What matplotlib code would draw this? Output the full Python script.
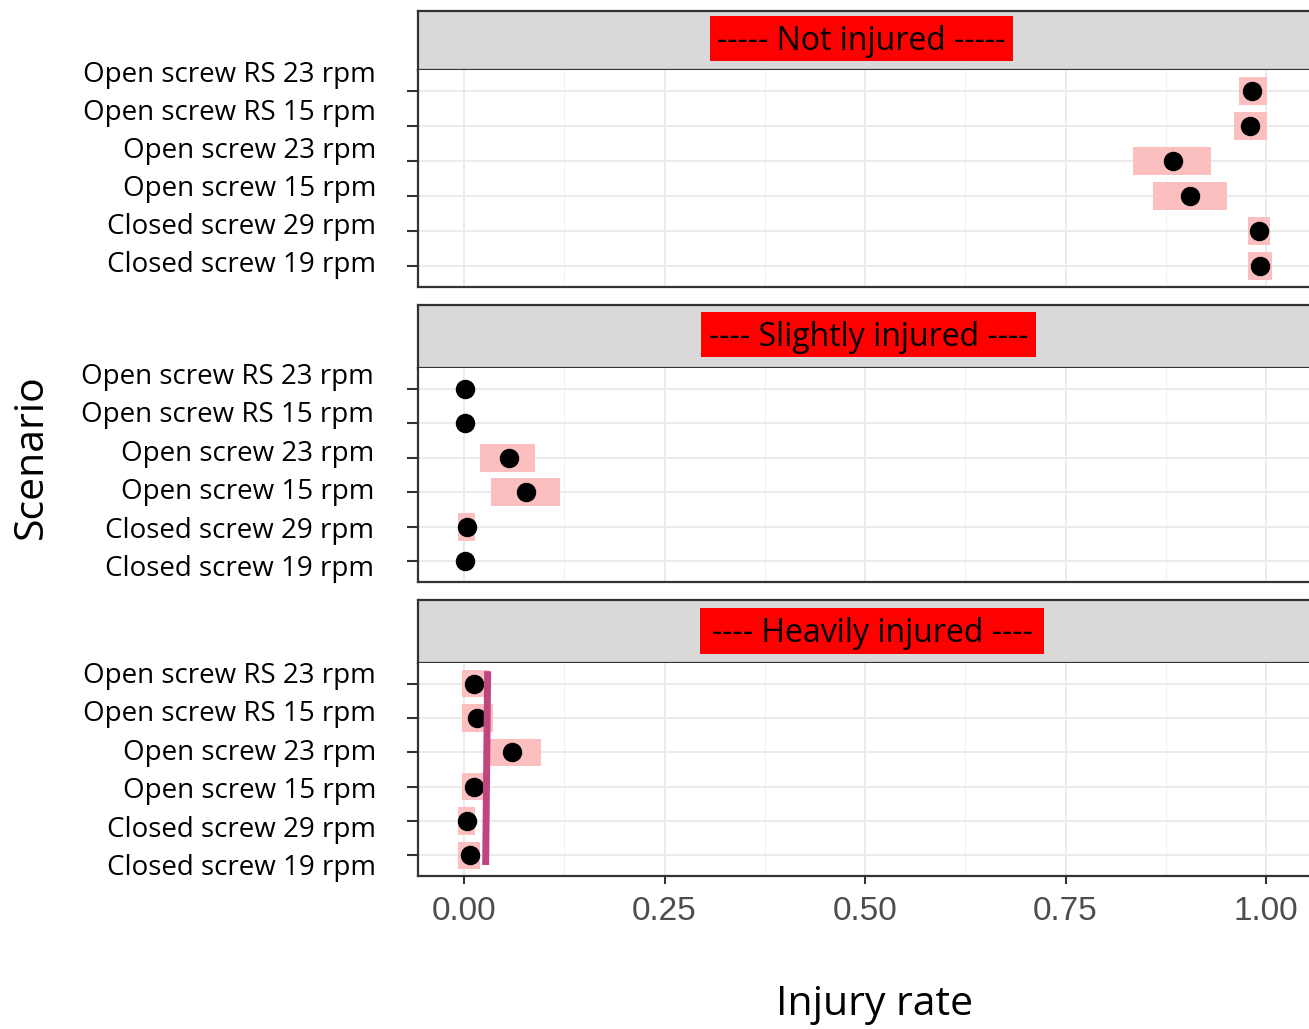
import matplotlib
matplotlib.use("Agg")
import matplotlib.pyplot as plt
import numpy as np
from matplotlib.patches import Rectangle

# scenarios, top row first
scenarios = [
    "Open screw RS 23 rpm",
    "Open screw RS 15 rpm",
    "Open screw 23 rpm",
    "Open screw 15 rpm",
    "Closed screw 29 rpm",
    "Closed screw 19 rpm",
]
panel_titles = [
    "----- Not injured -----",
    "---- Slightly injured ----",
    "---- Heavily injured ----",
]

# injury rate estimate and interval, same order as scenarios
not_rate = [0.982, 0.980, 0.884, 0.905, 0.991, 0.992]
not_lo = [0.966, 0.960, 0.834, 0.859, 0.977, 0.978]
not_hi = [1.001, 1.001, 0.931, 0.951, 1.005, 1.008]

slight_rate = [0.001, 0.001, 0.056, 0.077, 0.004, 0.001]
slight_lo = [0.001, 0.001, 0.020, 0.034, -0.008, 0.001]
slight_hi = [0.001, 0.001, 0.089, 0.120, 0.014, 0.001]

heavy_rate = [0.013, 0.016, 0.060, 0.013, 0.004, 0.007]
heavy_lo = [-0.003, -0.003, 0.031, -0.003, -0.008, -0.008]
heavy_hi = [0.031, 0.036, 0.096, 0.031, 0.014, 0.020]

# threshold line drawn on the heavily injured panel
threshold_x = [0.0295, 0.027]
threshold_y = [5.36, -0.28]

x_ticks = [0.00, 0.25, 0.50, 0.75, 1.00]
x_minor = [0.125, 0.375, 0.625, 0.875]

W, H, DPI = 1309, 1029, 100
fig = plt.figure(figsize=(W / DPI, H / DPI), dpi=DPI)


def box(l, t, r, b):
    return [l / W, 1 - b / H, (r - l) / W, (b - t) / H]


# pixel layout: strip top, strip bottom, panel bottom, label baseline top/bottom, label right, red box
layout = [
    (11, 70, 287, 82, 272, 376, (710, 16, 1013, 61)),
    (305, 368, 582, 384, 576, 374, (701, 312, 1036, 357)),
    (600, 663, 876, 683, 875, 376, (700, 608, 1044, 654)),
]
panels = [
    (not_rate, not_lo, not_hi),
    (slight_rate, slight_lo, slight_hi),
    (heavy_rate, heavy_lo, heavy_hi),
]

SPINE = "#333333"
XMIN, XMAX = (418 - 464) / 802, (1309 - 464) / 802
ypos = np.arange(len(scenarios))[::-1]

for i, ((st, sb, pb, bl_top, bl_bot, lab_r, red), (rate, lo, hi)) in enumerate(
    zip(layout, panels)
):
    # strip
    sax = fig.add_axes(box(418, st, 1309, sb))
    sax.set_facecolor("#D9D9D9")
    sax.set_xticks([])
    sax.set_yticks([])
    for name, sp in sax.spines.items():
        sp.set_color(SPINE)
        sp.set_linewidth(1.6)
    sax.spines["right"].set_visible(False)
    l, t, r, b = red
    fig.patches.append(
        Rectangle((l / W, 1 - b / H), (r - l) / W, (b - t) / H,
                  transform=fig.transFigure, facecolor="#FF0000",
                  edgecolor="none", zorder=5)
    )
    fig.text((l + r) / 2 / W, 1 - ((t + b) / 2 + 3) / H, panel_titles[i],
             ha="center", va="center", fontsize=23, family="Open Sans",
             color="black", zorder=6)

    # panel
    ax = fig.add_axes(box(418, sb, 1309, pb))
    ax.set_xlim(XMIN, XMAX)
    ax.set_ylim(-0.6, 5.6)
    ax.set_xticks(x_ticks)
    ax.set_xticks(x_minor, minor=True)
    ax.set_yticks(ypos)
    ax.set_yticklabels([])
    ax.grid(True, which="major", color="#EBEBEB", linewidth=1.4, zorder=0)
    ax.grid(True, which="minor", axis="x", color="#F2F2F2", linewidth=0.9, zorder=0)
    ax.set_axisbelow(True)
    for name, sp in ax.spines.items():
        sp.set_color(SPINE)
        sp.set_linewidth(1.6)
    ax.spines["right"].set_visible(False)
    ax.spines["top"].set_visible(False)
    ax.tick_params(axis="y", length=8, width=1.5, color=SPINE)
    ax.tick_params(axis="x", which="minor", length=0)

    widths = np.array(hi) - np.array(lo)
    ax.barh(ypos, widths, left=lo, height=0.8, color="#FBBFC0", zorder=2)
    ax.plot(rate, ypos, "o", color="black", markersize=13, linestyle="none", zorder=3)

    if i == 2:
        ax.plot(threshold_x, threshold_y, color="#C0457F", linewidth=5,
                solid_capstyle="butt", zorder=4)
        ax.tick_params(axis="x", which="major", length=5.5, width=1.5,
                       color=SPINE, labelsize=24, labelcolor="#4D4D4D", pad=9)
        ax.set_xticklabels([f"{v:.2f}" for v in x_ticks], family="Liberation Sans")
    else:
        ax.tick_params(axis="x", which="major", length=0, labelbottom=False)

    # scenario labels
    baselines = np.linspace(bl_top, bl_bot, len(scenarios))
    for name, yb in zip(scenarios, baselines):
        fig.text(lab_r / W, 1 - yb / H, name, ha="right", va="baseline",
                 fontsize=20, family="Open Sans", color="black")

fig.text(32 / W, 1 - 457 / H, "Scenario", rotation=90, ha="center", va="center",
         fontsize=29.5, family="Open Sans")
fig.text(875 / W, 1 - 1005 / H, "Injury rate", ha="center", va="center",
         fontsize=29.5, family="Open Sans")

fig.savefig("out.png", dpi=DPI)
